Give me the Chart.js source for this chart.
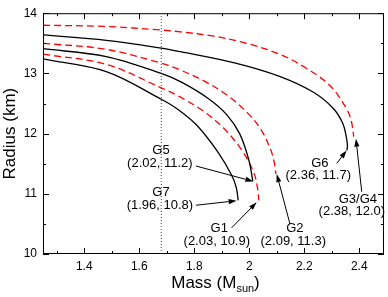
<!DOCTYPE html>
<html><head><meta charset="utf-8">
<script src="https://cdn.jsdelivr.net/npm/chart.js@4/dist/chart.umd.min.js"></script>
<style>html,body{margin:0;padding:0;background:#fff}</style>
</head><body>
<canvas id="c" width="388" height="297"></canvas>
<script>
// ---- data ----
const g34Mass   = [1.25, 1.48, 1.68, 1.75, 1.87, 1.99, 2.11, 2.195, 2.293, 2.353, 2.371, 2.38];
const g34Radius = [13.80, 13.78, 13.72, 13.69, 13.62, 13.50, 13.32, 13.12, 12.80, 12.42, 12.21, 11.95];
const g6Mass    = [1.25, 1.48, 1.68, 1.75, 1.95, 2.11, 2.232, 2.305, 2.341, 2.353, 2.357, 2.355];
const g6Radius  = [13.64, 13.55, 13.42, 13.36, 13.17, 12.95, 12.69, 12.42, 12.16, 11.94, 11.80, 11.72];
const g2Mass    = [1.25, 1.48, 1.68, 1.742, 1.833, 1.919, 1.999, 2.045, 2.078, 2.091, 2.097];
const g2Radius  = [13.50, 13.40, 13.17, 13.07, 12.88, 12.64, 12.32, 12.05, 11.73, 11.52, 11.33];
const g5Mass    = [1.25, 1.48, 1.68, 1.755, 1.852, 1.917, 1.965, 1.998, 2.013];
const g5Radius  = [13.41, 13.28, 13.0, 12.85, 12.58, 12.32, 12.0, 11.57, 11.21];
const g1Mass    = [1.25, 1.48, 1.68, 1.748, 1.834, 1.909, 1.972, 2.016, 2.030, 2.035];
const g1Radius  = [13.32, 13.15, 12.76, 12.61, 12.37, 12.08, 11.73, 11.36, 11.10, 10.89];
const g7Mass    = [1.25, 1.48, 1.68, 1.741, 1.811, 1.888, 1.937, 1.953, 1.96];
const g7Radius  = [13.24, 13.03, 12.57, 12.40, 12.13, 11.68, 11.30, 11.10, 10.89];
const markerMass = 1.68;
const markerRadius = [10, 14];

const massTicks = [1.4, 1.6, 1.8, 2.0, 2.2, 2.4];
const massTickLabels = ['1.4', '1.6', '1.8', '2', '2.2', '2.4'];
const massMinor = [1.3, 1.5, 1.7, 1.9, 2.1, 2.3];
const radiusTicks = [10, 11, 12, 13, 14];
const radiusTickLabels = ['10', '11', '12', '13', '14'];
const radiusMinor = [10.5, 11.5, 12.5, 13.5];

const annNames  = ['G5', 'G7', 'G1', 'G2', 'G6', 'G3/G4'];
const annValues = ['(2.02, 11.2)', '(1.96, 10.8)', '(2.03, 10.9)', '(2.09, 11.3)', '(2.36, 11.7)', '(2.38, 12.0)'];
const annNameAt  = [[1.679, 11.728], [1.679, 11.018], [1.891, 10.42], [2.166, 10.42], [2.257, 11.504], [2.395, 10.911]];
const annValueAt = [[1.675, 11.504], [1.675, 10.81], [1.882, 10.205], [2.160, 10.205], [2.251, 11.30], [2.373, 10.709]];
const annTail = [[1.806, 11.462], [1.806, 10.81], [1.936, 10.436], [2.148, 10.50], [2.318, 11.504], [2.409, 11.034]];
const annTip  = [[2.015, 11.206], [1.954, 10.885], [2.027, 10.858], [2.100, 11.327], [2.354, 11.719], [2.388, 11.916]];

const FONT = '"Liberation Sans", Arial, Helvetica, sans-serif';
const pts = (m, r) => m.map((v, i) => ({x: v, y: r[i]}));
const RED = '#ff0000', BLACK = '#000000';
function curve(m, r, red) {
  return {data: pts(m, r), borderColor: red ? RED : BLACK, borderWidth: 1.3,
    borderDash: red ? [7, 4] : [], showLine: true, pointRadius: 0, tension: 0.35, fill: false};
}

const deco = {
  id: 'deco',
  afterDatasetsDraw(chart) {
    const ctx = chart.ctx, a = chart.chartArea, xs = chart.scales.x, ys = chart.scales.y;
    ctx.save();
    ctx.strokeStyle = '#000'; ctx.lineWidth = 1; ctx.setLineDash([]);
    ctx.strokeRect(a.left + 0.5, a.top + 0.5, a.right - a.left - 1, a.bottom - a.top - 1);
    ctx.beginPath();
    const tk = (v, len) => { const p = Math.round(xs.getPixelForValue(v)) + 0.5;
      ctx.moveTo(p, a.bottom); ctx.lineTo(p, a.bottom - len); ctx.moveTo(p, a.top); ctx.lineTo(p, a.top + len); };
    const tky = (v, len) => { const p = Math.round(ys.getPixelForValue(v)) + 0.5;
      ctx.moveTo(a.left, p); ctx.lineTo(a.left + len, p); ctx.moveTo(a.right, p); ctx.lineTo(a.right - len, p); };
    massTicks.forEach(v => tk(v, 6)); massMinor.forEach(v => tk(v, 3));
    radiusTicks.forEach(v => tky(v, 6)); radiusMinor.forEach(v => tky(v, 3));
    ctx.stroke();

    // annotations
    ctx.fillStyle = '#000'; ctx.font = '13px ' + FONT; ctx.textAlign = 'center'; ctx.textBaseline = 'middle';
    const P = d => [xs.getPixelForValue(d[0]), ys.getPixelForValue(d[1])];
    annNames.forEach((n, i) => {
      let p = P(annNameAt[i]); ctx.fillText(n, p[0], p[1]);
      p = P(annValueAt[i]); ctx.fillText(annValues[i], p[0], p[1]);
      const t = P(annTail[i]), h = P(annTip[i]);
      const ang = Math.atan2(h[1] - t[1], h[0] - t[0]);
      const L = 8, W = 2.6;
      const bx = h[0] - L * Math.cos(ang), by = h[1] - L * Math.sin(ang);
      ctx.beginPath(); ctx.moveTo(t[0], t[1]); ctx.lineTo(bx, by); ctx.lineWidth = 1; ctx.stroke();
      ctx.beginPath(); ctx.moveTo(h[0], h[1]);
      ctx.lineTo(bx + W * Math.sin(ang), by - W * Math.cos(ang));
      ctx.lineTo(bx - W * Math.sin(ang), by + W * Math.cos(ang));
      ctx.closePath(); ctx.fill();
    });

    // axis titles
    ctx.font = '17px ' + FONT; ctx.textBaseline = 'alphabetic';
    const main = 'Mass (M', sub = 'sun', close = ')';
    const w1 = ctx.measureText(main).width, w3 = ctx.measureText(close).width;
    ctx.font = '11px ' + FONT; const w2 = ctx.measureText(sub).width;
    let x0 = (a.left + a.right) / 2 - (w1 + w2 + w3) / 2 + 2, yb = 288;
    ctx.textAlign = 'left';
    ctx.font = '17px ' + FONT; ctx.fillText(main, x0, yb);
    ctx.font = '11px ' + FONT; ctx.fillText(sub, x0 + w1, yb + 4);
    ctx.font = '17px ' + FONT; ctx.fillText(close, x0 + w1 + w2, yb);
    ctx.save(); ctx.translate(15, (a.top + a.bottom) / 2); ctx.rotate(-Math.PI / 2);
    ctx.textAlign = 'center'; ctx.fillText('Radius (km)', 0, 0); ctx.restore();
    ctx.restore();
  }
};

new Chart(document.getElementById('c'), {
  type: 'scatter',
  data: { datasets: [
    {data: [{x: markerMass, y: markerRadius[0]}, {x: markerMass, y: markerRadius[1]}], borderColor: '#444',
     borderWidth: 1, borderDash: [1, 2], showLine: true, pointRadius: 0},
    curve(g34Mass, g34Radius, true),
    curve(g6Mass, g6Radius, false),
    curve(g2Mass, g2Radius, true),
    curve(g5Mass, g5Radius, false),
    curve(g1Mass, g1Radius, true),
    curve(g7Mass, g7Radius, false)
  ]},
  options: {
    responsive: false, animation: false, devicePixelRatio: 1,
    layout: {padding: {top: 5, right: 4, left: 0, bottom: 0}},
    plugins: {legend: {display: false}, tooltip: {enabled: false}},
    scales: {
      x: { type: 'linear', min: 1.25, max: 2.49,
        afterBuildTicks: s => { s.ticks = massTicks.map(v => ({value: v})); },
        afterFit: s => { s.height = 43; },
        grid: {display: false, drawTicks: false}, border: {display: false},
        ticks: {callback: (v, i) => massTickLabels[i], color: '#000', padding: 5, maxRotation: 0,
          font: {family: FONT, size: 12}} },
      y: { type: 'linear', min: 10, max: 14,
        afterBuildTicks: s => { s.ticks = radiusTicks.map(v => ({value: v})); },
        afterFit: s => { s.width = 43; },
        grid: {display: false, drawTicks: false}, border: {display: false},
        ticks: {callback: (v, i) => radiusTickLabels[i], color: '#000', padding: 6,
          font: {family: FONT, size: 12}} }
    }
  },
  plugins: [deco]
});
</script>
</body></html>
